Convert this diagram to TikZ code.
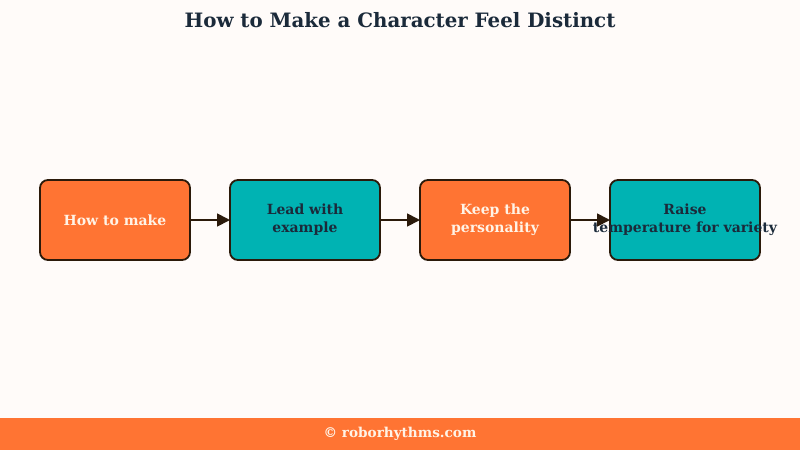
\documentclass[tikz,border=0pt]{standalone}
\usepackage{fontspec}
\setmainfont{DejaVu Serif}
\usetikzlibrary{positioning,arrows.meta}
\definecolor{bgcream}{HTML}{FFFBF9}
\definecolor{boxorange}{HTML}{FF7433}
\definecolor{boxteal}{HTML}{00B3B3}
\definecolor{edgebrown}{HTML}{2B1A0A}
\definecolor{textcream}{HTML}{FFF3E6}
\definecolor{textnavy}{HTML}{1B2A3A}
\tikzset{
	stepbox/.style={draw=edgebrown, line width=1.8pt, rounded corners=8pt, minimum width=150pt, minimum height=80pt, align=center, font=\bfseries\fontsize{14}{18}\selectfont, inner sep=0pt, outer sep=0pt},
	warmbox/.style={stepbox, fill=boxorange, text=textcream},
	coolbox/.style={stepbox, fill=boxteal, text=textnavy},
	flow/.style={-{Triangle[length=13pt,width=13pt]}, draw=edgebrown, line width=1.8pt}
}

\begin{document}
\begin{tikzpicture}[x=1pt, y=-1pt, node distance=40pt]
			%%%%% START %%%%%
			
			\fill[bgcream] (0, 0) rectangle (800, 450);
			\useasboundingbox (0, 0) rectangle (800, 450);
			
			\node[font=\bfseries\fontsize{19.8}{24}\selectfont, text=textnavy] (title) at (400, 20) {How to Make a Character Feel Distinct};
			
			\node[warmbox] (make) at (115, 220) {How to make};
			\node[coolbox, right=of make] (lead) {Lead with\\example};
			\node[warmbox, right=of lead] (keep) {Keep the\\personality};
			\node[coolbox, right=of keep] (raise) {Raise\\\makebox[0pt]{temperature for variety}};
			
			\draw[flow] (make) -- (lead);
			\draw[flow] (lead) -- (keep);
			\draw[flow] (keep) -- (raise);
			
			\fill[boxorange] (0, 418) rectangle (800, 450);
			\node[font=\bfseries\fontsize{13.6}{16}\selectfont, text=textcream] (credit) at (400, 434) {© roborhythms.com};
			
			%%%%% END %%%%%
\end{tikzpicture}
\end{document}
